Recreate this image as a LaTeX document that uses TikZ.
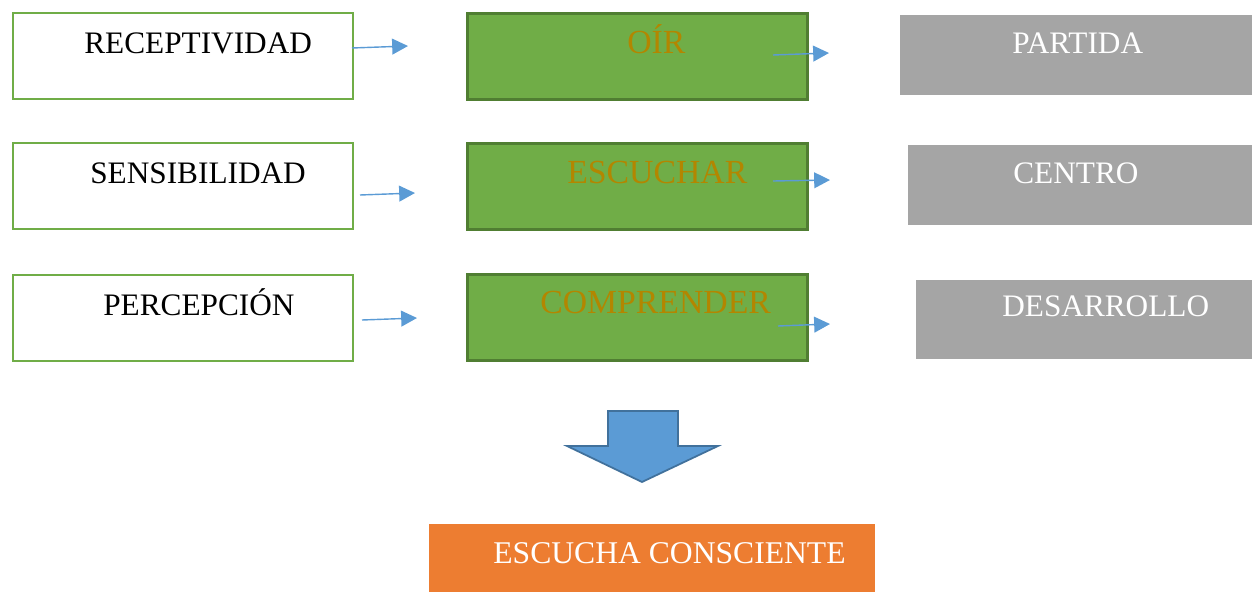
\documentclass[tikz,border=0pt]{standalone}
\usepackage{fontspec}
\setmainfont{Liberation Serif}
\usetikzlibrary{arrows.meta,positioning}
\definecolor{leafgreen}{HTML}{70AD47}
\definecolor{darkleaf}{HTML}{507E32}
\definecolor{ashgray}{HTML}{A5A5A5}
\definecolor{skyblue}{HTML}{5B9BD5}
\definecolor{deepblue}{HTML}{41719C}
\definecolor{tangerine}{HTML}{ED7D31}
\definecolor{goldtext}{HTML}{B38600}
\tikzset{%
	quality/.style  = {draw=leafgreen, line width=1.2pt, fill=white, anchor=north west, minimum width=6.8cm, minimum height=1.72cm},
	action/.style   = {draw=darkleaf, line width=1.6pt, fill=leafgreen, anchor=north west, minimum width=6.8cm, minimum height=1.72cm},
	stage/.style    = {fill=ashgray, anchor=north west, minimum height=1.6cm},
	result/.style   = {fill=tangerine, anchor=north west, minimum width=8.92cm, minimum height=1.36cm},
	word/.style     = {anchor=base west, inner sep=0pt, font=\fontsize{17.8}{20}\selectfont},
	goldword/.style = {word, text=goldtext, font=\fontsize{19.2}{22}\selectfont},
	link/.style     = {draw=skyblue, line width=0.8pt, -{Triangle[length=9pt,width=9pt]}},
}
\begin{document}
\begin{tikzpicture}[x=0.02cm,y=-0.02cm]
		\useasboundingbox (0,0) rectangle (1252,592);
		
		\node[quality] (rec) at (12,12) {};
		\node[quality] (sen) at (12,142) {};
		\node[quality] (per) at (12,274) {};
		\node[word] (recT) at (84,53) {RECEPTIVIDAD};
		\node[word] (senT) at (90,183) {SENSIBILIDAD};
		\node[word] (perT) at (103,315) {PERCEPCIÓN};
		
		\node[action] (oir) at (466,12) {};
		\node[action] (esc) at (466,142) {};
		\node[action] (com) at (466,273) {};
		\node[goldword] (oirT) at (627,53) {OÍR};
		\node[goldword] (escT) at (567,183) {ESCUCHAR};
		\node[goldword] (comT) at (540,313) {COMPRENDER};
		
		\node[stage, minimum width=7.04cm] (par) at (900,15) {};
		\node[stage, minimum width=6.88cm] (cen) at (908,145) {};
		\node[stage, minimum width=6.72cm, minimum height=1.58cm] (des) at (916,280) {};
		\node[word, text=white] (parT) at (1012,53) {PARTIDA};
		\node[word, text=white] (cenT) at (1013,183) {CENTRO};
		\node[word, text=white] (desT) at (1002,316) {DESARROLLO};
		
		% small arrows between the columns
		\coordinate (l1a) at (352,48);  \coordinate (l1b) at (408,46);
		\coordinate (l2a) at (360,195); \coordinate (l2b) at (415,193);
		\coordinate (l3a) at (362,320); \coordinate (l3b) at (417,318);
		\coordinate (r1a) at (773,55);  \coordinate (r1b) at (829,53);
		\coordinate (r2a) at (773,181); \coordinate (r2b) at (830,180);
		\coordinate (r3a) at (778,326); \coordinate (r3b) at (830,324);
		\foreach \s/\e in {l1a/l1b,l2a/l2b,l3a/l3b,r1a/r1b,r2a/r2b,r3a/r3b}
			\draw[link] (\s) -- (\e);
		
		\draw[fill=skyblue, draw=deepblue, line width=1pt] (608,411) -- (678,411) -- (678,446) -- (718,446) -- (642,482) -- (567,446) -- (608,446) -- cycle;
		
		\node[result] (con) at (429,524) {};
		\node[word, text=white, font=\fontsize{18}{20}\selectfont] (conT) at (493,563) {ESCUCHA CONSCIENTE};
		
	\end{tikzpicture}
\end{document}
